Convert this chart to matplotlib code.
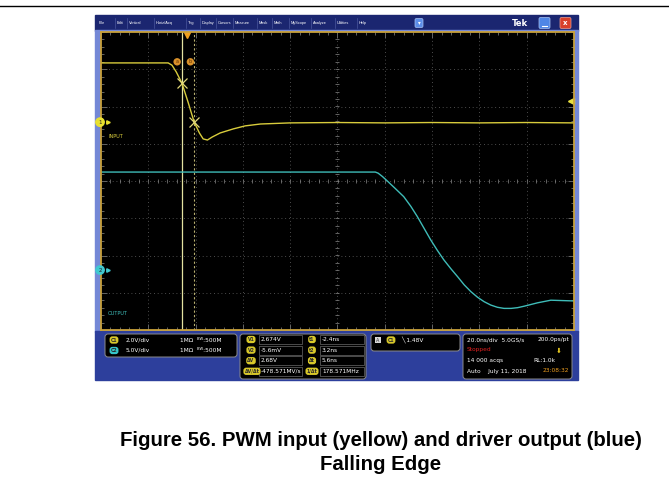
import numpy as np
import matplotlib.pyplot as plt
from matplotlib.patches import Rectangle, FancyBboxPatch, Circle

W, H = 669, 493

# scope traces, in screen divisions (x: -5..5, y: -4..4)
yellow_t = [-5.0, -3.58, -3.50, -3.41, -3.29, -3.16, -3.03, -2.92, -2.84, -2.75,
            -2.65, -2.48, -2.20, -1.95, -1.63, -1.00, 0.0, 1.0, 2.0, 3.0, 4.0, 5.0]
yellow_v = [3.17, 3.17, 3.11, 2.93, 2.63, 2.12, 1.58, 1.29, 1.13, 1.10,
            1.18, 1.29, 1.40, 1.48, 1.53, 1.56, 1.57, 1.56, 1.57, 1.56, 1.57, 1.56]

blue_t = [-5.0, 0.80, 0.86, 0.95, 1.07, 1.22, 1.40, 1.55, 1.69, 1.83, 1.97, 2.11, 2.25,
          2.40, 2.54, 2.68, 2.82, 2.96, 3.10, 3.24, 3.38, 3.52, 3.67, 3.81, 3.95, 4.23,
          4.51, 4.75, 5.0]
blue_v = [0.24, 0.24, 0.21, 0.12, -0.02, -0.20, -0.42, -0.68, -0.96, -1.27, -1.58, -1.86,
          -2.12, -2.36, -2.57, -2.79, -2.97, -3.12, -3.24, -3.33, -3.39, -3.42, -3.42,
          -3.40, -3.36, -3.27, -3.20, -3.21, -3.22]

cursor_t = [-3.29, -3.03]
cursor_v = [2.63, 1.58]
trigger_t = -3.18
trigger_level = 2.15
ch1_ground = 1.58
ch2_ground = -2.39

menu_items = ['File', 'Edit', 'Vertical', 'Horiz/Acq', 'Trig', 'Display', 'Cursors',
              'Measure', 'Mask', 'Math', 'MyScope', 'Analyze', 'Utilities', 'Help']
menu_x = [98, 116, 128, 155, 187, 201, 217, 234, 258, 273, 290, 312, 336, 358]

ch_scale = ['2.0V/div', '5.0V/div']
cursor_labels = [('V1', '2.674V', 't1', '-2.4ns'),
                 ('V2', '-5.6mV', 't2', '3.2ns'),
                 ('ΔV', '2.68V', 'Δt', '5.6ns'),
                 ('ΔV/Δt', '-478.571MV/s', '1/Δt', '178.571MHz')]

YEL = '#d8cc3c'
CYAN = '#3fbcb8'
PILL_Y = '#d9c92a'
PILL_C = '#35c4c8'

fig = plt.figure(figsize=(W / 100, H / 100), dpi=100)
bg = fig.add_axes([0, 0, 1, 1])
bg.set_xlim(0, W)
bg.set_ylim(H, 0)
bg.axis('off')

# page rule
bg.plot([0, W], [6, 6], color='black', lw=1)

# screenshot frame
bg.add_patch(Rectangle((95, 15), 483, 16, color='#1b2670'))
bg.add_patch(Rectangle((95, 30), 483, 302, color='#7488d6'))
bg.add_patch(Rectangle((95, 331), 483, 49, color='#2d3f9c'))

# menu bar
for i, (name, x) in enumerate(zip(menu_items, menu_x)):
    bg.text(x + 1, 23, name, color='white', fontsize=2.8, family='Liberation Sans',
            va='center', ha='left')
    if i > 0:
        bg.plot([x - 1.5, x - 1.5], [18, 28], color='#5563a8', lw=0.4)
bg.add_patch(FancyBboxPatch((415, 18.5), 8, 9, boxstyle='round,pad=0,rounding_size=1.5',
                            fc='#5d8ee8', ec='#a8c4f4', lw=0.5))
bg.text(419, 23, '▾', color='white', fontsize=4, ha='center', va='center')
bg.text(520, 23, 'Tek', color='white', fontsize=6, fontweight='bold', ha='center', va='center')
bg.add_patch(FancyBboxPatch((539, 17.5), 11, 11, boxstyle='round,pad=0,rounding_size=1.5',
                            fc='#4f86e6', ec='#a8c4f4', lw=0.5))
bg.plot([542, 547], [26, 26], color='white', lw=0.8)
bg.add_patch(FancyBboxPatch((560, 17.5), 11, 11, boxstyle='round,pad=0,rounding_size=1.5',
                            fc='#d8402a', ec='#f0a090', lw=0.5))
bg.text(565.5, 23, 'x', color='white', fontsize=5, fontweight='bold', ha='center', va='center')

# scope screen
L, T, R, B = 101, 32, 574, 330
ax = fig.add_axes([L / W, 1 - B / H, (R - L) / W, (B - T) / H])
ax.set_facecolor('black')
ax.set_xlim(-5, 5)
ax.set_ylim(-4, 4)
for s in ax.spines.values():
    s.set_color('#c9a13a')
    s.set_linewidth(1.3)
ax.set_xticks(np.arange(-5, 5.01, 1))
ax.set_yticks(np.arange(-4, 4.01, 1))
ax.set_xticks(np.arange(-5, 5.01, 0.2), minor=True)
ax.set_yticks(np.arange(-4, 4.01, 0.2), minor=True)
ax.tick_params(which='both', direction='in', top=True, right=True, color='#8a8a8a',
               labelbottom=False, labelleft=False, width=0.5)
ax.tick_params(which='major', length=4)
ax.tick_params(which='minor', length=2)
for gx in range(-4, 5):
    ax.axvline(gx, color='#666666', lw=0.6, ls=(0, (1, 3.5)))
for gy in range(-3, 4):
    ax.axhline(gy, color='#666666', lw=0.6, ls=(0, (1, 3.5)))
minor = np.arange(-5, 5.01, 0.2)
ax.plot(minor, np.zeros_like(minor), ls='none', marker='|', ms=3, color='#8a8a8a', mew=0.5)
minor_y = np.arange(-4, 4.01, 0.2)
ax.plot(np.zeros_like(minor_y), minor_y, ls='none', marker='_', ms=3, color='#8a8a8a', mew=0.5)

# cursors
ax.axvline(cursor_t[0], color='#e4e2a0', lw=0.9)
ax.axvline(cursor_t[1], color='#b8b070', lw=0.8, ls=(0, (2, 2)))

# traces
ax.plot(yellow_t, yellow_v, color=YEL, lw=1.0)
ax.plot(blue_t, blue_v, color=CYAN, lw=1.0)
ax.plot(cursor_t, cursor_v, ls='none', marker='x', ms=7, mew=0.9, color='#e2d878')

for lbl, cx in zip(['a', 'b'], [-3.39, -3.11]):
    ax.text(cx, 3.2, lbl, fontsize=3.5, color='#603000', ha='center', va='center',
            bbox=dict(boxstyle='circle,pad=0.25', fc='#d8902a', ec='none'))

ax.plot(trigger_t, 3.93, marker='v', ms=5, color='#f0a020', clip_on=False)
ax.plot(4.93, trigger_level, marker='<', ms=4, color='#e8e040', clip_on=False)

ax.text(-4.85, ch1_ground - 0.38, 'INPUT', color=YEL, fontsize=3.6, va='center')
ax.text(-4.85, -3.55, 'OUTPUT', color=CYAN, fontsize=3.6, va='center')

# channel ground markers, sitting on the left edge of the screen
for gv, col, lbl in [(ch1_ground, '#e8e030', '1'), (ch2_ground, '#40c8d0', '2')]:
    yp = T + (4 - gv) / 8 * (B - T)
    ax.add_artist(Circle((100, yp), 4.2, color=col, zorder=5, clip_on=False,
                         transform=bg.transData))
    ax.text(-5.02, gv, lbl, fontsize=4, color='#202020', ha='center', va='center', zorder=6)
    ax.plot(-4.86, gv, marker='>', ms=2.5, color=col, zorder=5, clip_on=False)


def box(x0, y0, x1, y1):
    bg.add_patch(FancyBboxPatch((x0, y0), x1 - x0, y1 - y0,
                                boxstyle='round,pad=0,rounding_size=3',
                                fc='black', ec='#8c8c8c', lw=0.7))


def pill(x, y, s, fc):
    bg.text(x, y, s, fontsize=3.3, color='#2a2a2a', ha='center', va='center',
            fontweight='bold',
            bbox=dict(boxstyle='round,pad=0.25,rounding_size=0.6', fc=fc, ec='none'))


def txt(x, y, s, col='white', ha='left'):
    bg.text(x, y, s, fontsize=4.2, color=col, ha=ha, va='center')


# status: channels
box(105, 334, 237, 357)
for i, (name, fc) in enumerate([('C1', PILL_Y), ('C2', PILL_C)]):
    yy = 340 + i * 10.5
    pill(114, yy, name, fc)
    txt(126, yy, ch_scale[i])
    txt(180, yy, '1MΩ  ᴮᵂ:500M')

# status: cursor readouts
box(240, 334, 366, 379)
for i, (a, va, b, vb) in enumerate(cursor_labels):
    yy = 339.5 + i * 10.6
    pill(251 if len(a) < 3 else 252, yy, a, PILL_Y)
    bg.add_patch(Rectangle((259, yy - 4.6), 43, 9.2, fc='none', ec='#6a6a6a', lw=0.5))
    txt(261, yy, va)
    pill(312, yy, b, PILL_Y)
    bg.add_patch(Rectangle((320, yy - 4.6), 44, 9.2, fc='none', ec='#6a6a6a', lw=0.5))
    txt(322, yy, vb)

# status: trigger
box(371, 334, 460, 351)
bg.text(378, 340, 'A', fontsize=3.5, color='#303030', ha='center', va='center',
        bbox=dict(boxstyle='square,pad=0.2', fc='#d8d8d8', ec='none'))
pill(391, 340, 'C1', PILL_Y)
txt(401, 340, '╲ 1.48V')

# status: acquisition
box(463, 334, 572, 379)
txt(467, 339.5, '20.0ns/div  5.0GS/s')
txt(569, 339.5, '200.0ps/pt', ha='right')
txt(467, 350, 'Stopped', col='#e02020')
bg.text(559, 351, '⬇', fontsize=5, color='#f0d020', ha='center', va='center')
txt(467, 360.5, '14 000 acqs')
txt(533, 360.5, 'RL:1.0k')
txt(467, 371, 'Auto    July 11, 2018')
txt(569, 371, '23:08:32', col='#f0a020', ha='right')

# caption
cap = dict(fontsize=14.7, fontweight='bold', family='Liberation Sans', ha='center', va='center')
bg.text(381, 440, 'Figure 56. PWM input (yellow) and driver output (blue)', **cap)
bg.text(381, 465, 'Falling Edge', **cap)

fig.savefig('out.png', dpi=100)
